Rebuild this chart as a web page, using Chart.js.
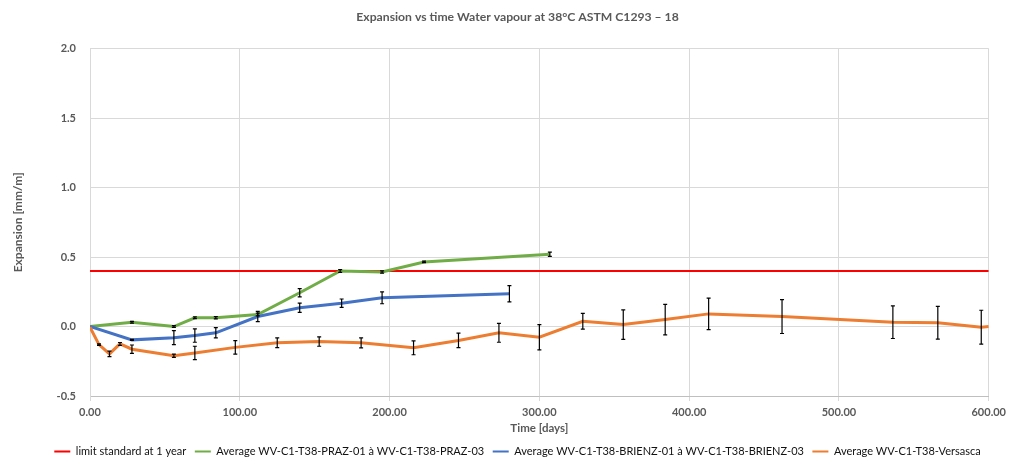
<!DOCTYPE html>
<html>
<head>
<meta charset="utf-8">
<script src="https://cdn.jsdelivr.net/npm/chart.js@4/dist/chart.umd.min.js"></script>
<style>
  html, body { margin: 0; padding: 0; background: #fff; }
  #wrap { width: 1011px; height: 459px; position: relative; }
</style>
</head>
<body>
<div id="wrap"><canvas id="chart"></canvas></div>
<script>
// limit line
const limitDays = [0, 600];
const limitValue = [0.4, 0.4];

// PRAZ average
const prazDays = [0, 28, 56, 70, 84, 112, 140, 167, 195, 223, 307];
const prazMean = [0, 0.031, 0.0, 0.063, 0.063, 0.086, 0.243, 0.40, 0.393, 0.465, 0.52];
const prazErr  = [0, 0.006, 0.006, 0.006, 0.008, 0.01, 0.03, 0.01, 0.008, 0.005, 0.015];

// BRIENZ average
const brienzDays = [0, 28, 56, 70, 84, 112, 140, 168, 195, 280];
const brienzMean = [0, -0.096, -0.08, -0.065, -0.045, 0.072, 0.135, 0.168, 0.207, 0.236];
const brienzErr  = [0, 0.004, 0.05, 0.048, 0.037, 0.037, 0.033, 0.03, 0.043, 0.058];

// Versasca average
const versascaDays = [0, 6, 13, 20, 28, 56, 70, 97, 125, 153, 181, 216, 246, 273, 300, 329, 356, 384, 413, 462, 536, 566, 595, 600];
const versascaMean = [-0.005, -0.13, -0.197, -0.125, -0.163, -0.21, -0.19, -0.15, -0.117, -0.108, -0.117, -0.153, -0.10, -0.045, -0.077, 0.038, 0.014, 0.05, 0.091, 0.072, 0.031, 0.027, -0.005, 0.0];
const versascaErr  = [0, 0.005, 0.02, 0.01, 0.03, 0.012, 0.048, 0.048, 0.035, 0.034, 0.036, 0.05, 0.052, 0.068, 0.091, 0.056, 0.106, 0.11, 0.114, 0.122, 0.117, 0.118, 0.122, 0];

const xTicks = [0, 100, 200, 300, 400, 500, 600];
const yTicks = [-0.5, 0, 0.5, 1.0, 1.5, 2.0];

const FONT = 'Lato, "Open Sans", sans-serif';
const GREY = '#595959';

function toPoints(xs, ys) {
    return xs.map((x, i) => ({ x: x, y: ys[i] }));
}

// draws the vertical error bars with small caps
const errorBars = {
    id: 'errorBars',
    afterDatasetsDraw(chart) {
        const { ctx, chartArea, scales: { x, y } } = chart;
        ctx.save();
        ctx.beginPath();
        ctx.rect(chartArea.left, chartArea.top, chartArea.width, chartArea.height);
        ctx.clip();
        ctx.strokeStyle = '#000';
        ctx.lineWidth = 1.2;
        chart.data.datasets.forEach(ds => {
            if (!ds.errors) return;
            ds.data.forEach((p, j) => {
                const e = ds.errors[j];
                if (!e) return;
                const px = x.getPixelForValue(p.x);
                const top = y.getPixelForValue(p.y + e);
                const bot = y.getPixelForValue(p.y - e);
                ctx.beginPath();
                ctx.moveTo(px, top); ctx.lineTo(px, bot);
                ctx.moveTo(px - 2, top); ctx.lineTo(px + 2, top);
                ctx.moveTo(px - 2, bot); ctx.lineTo(px + 2, bot);
                ctx.stroke();
            });
        });
        ctx.restore();
    }
};

const ctx = document.getElementById('chart').getContext('2d');
new Chart(ctx, {
    type: 'line',
    data: {
        datasets: [{
            label: 'limit standard at 1 year',
            data: toPoints(limitDays, limitValue),
            borderColor: '#FF0000',
            backgroundColor: '#FF0000',
            borderWidth: 2,
            order: 4
        }, {
            label: 'Average WV-C1-T38-PRAZ-01 à WV-C1-T38-PRAZ-03',
            data: toPoints(prazDays, prazMean),
            errors: prazErr,
            borderColor: '#70AD47',
            backgroundColor: '#70AD47',
            borderWidth: 3,
            order: 3
        }, {
            label: 'Average WV-C1-T38-BRIENZ-01 à WV-C1-T38-BRIENZ-03',
            data: toPoints(brienzDays, brienzMean),
            errors: brienzErr,
            borderColor: '#4472C4',
            backgroundColor: '#4472C4',
            borderWidth: 3,
            order: 2
        }, {
            label: 'Average WV-C1-T38-Versasca',
            data: toPoints(versascaDays, versascaMean),
            errors: versascaErr,
            borderColor: '#ED7D31',
            backgroundColor: '#ED7D31',
            borderWidth: 3,
            order: 1
        }]
    },
    options: {
        responsive: true,
        maintainAspectRatio: false,
        animation: false,
        elements: {
            point: { radius: 0, hoverRadius: 0 },
            line: { tension: 0 }
        },
        layout: { padding: { left: 45, right: 21, top: 0, bottom: -8 } },
        plugins: {
            title: {
                display: true,
                text: 'Expansion vs time Water vapour at 38°C ASTM C1293 – 18',
                color: GREY,
                font: { family: FONT, size: 12.2, weight: 'bold' },
                padding: { top: 10, bottom: 24 }
            },
            legend: {
                position: 'bottom',
                labels: {
                    color: '#111',
                    font: { family: FONT, size: 11 },
                    boxWidth: 16,
                    boxHeight: 2,
                    padding: 8.5,
                    generateLabels(chart) {
                        return chart.data.datasets.map((ds, i) => ({
                            text: ds.label,
                            fillStyle: ds.borderColor,
                            strokeStyle: ds.borderColor,
                            lineWidth: 0,
                            fontColor: '#111',
                            datasetIndex: i,
                            hidden: false
                        }));
                    }
                }
            },
            tooltip: { enabled: false }
        },
        scales: {
            x: {
                type: 'linear',
                min: 0,
                max: 600,
                afterBuildTicks: s => { s.ticks = xTicks.map(v => ({ value: v })); },
                afterFit: s => { s.height = 41.5; },
                ticks: {
                    color: GREY,
                    font: { family: FONT, size: 11, weight: 'bold' },
                    padding: 5,
                    maxRotation: 0,
                    callback: v => v.toFixed(2)
                },
                grid: { color: '#d9d9d9', tickLength: 5 },
                border: { color: '#bfbfbf' },
                title: {
                    display: true,
                    text: 'Time [days]',
                    color: GREY,
                    font: { family: FONT, size: 11.5, weight: 'bold' },
                    padding: { top: 0, bottom: 2 }
                }
            },
            y: {
                min: -0.5,
                max: 2.0,
                afterBuildTicks: s => { s.ticks = yTicks.map(v => ({ value: v })); },
                afterFit: s => { s.width = 45; },
                ticks: {
                    color: GREY,
                    font: { family: FONT, size: 11, weight: 'bold' },
                    padding: 14,
                    callback: v => v.toFixed(1)
                },
                grid: { color: '#d9d9d9', tickLength: 0 },
                border: { color: '#d9d9d9' },
                title: {
                    display: true,
                    text: 'Expansion [mm/m]',
                    color: GREY,
                    font: { family: FONT, size: 12, weight: 'bold' },
                    padding: { top: -34, bottom: 0 }
                }
            }
        }
    },
    plugins: [errorBars]
});
</script>
</body>
</html>
